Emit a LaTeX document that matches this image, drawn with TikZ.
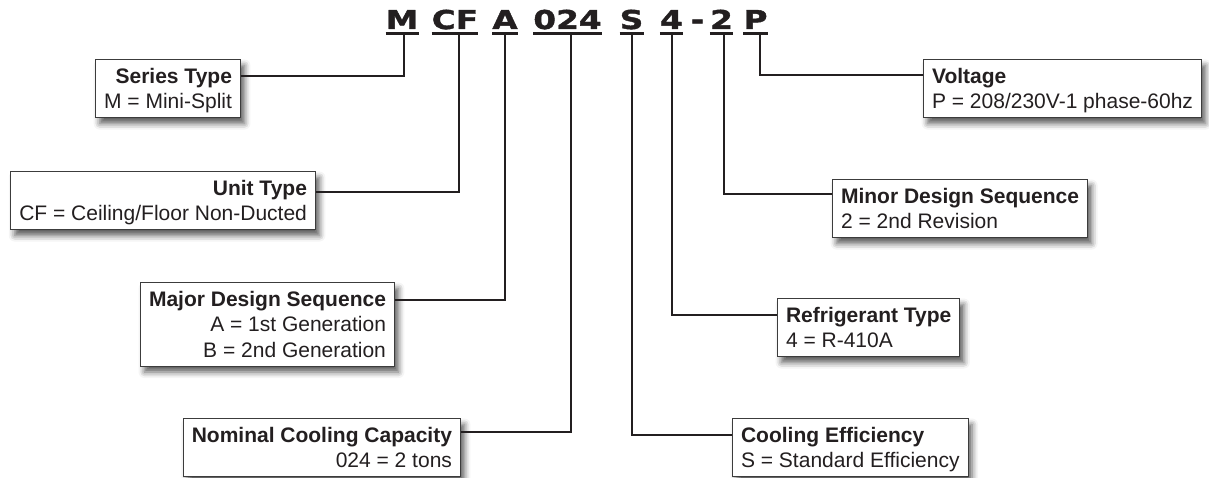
\documentclass[tikz,border=0pt]{standalone}
\usepackage{fontspec}
\setmainfont{Liberation Sans}
\newfontfamily\codefont[FakeStretch=1.26,FakeBold=1.6]{DejaVu Sans}
\usetikzlibrary{shadows.blur}
\definecolor{ink}{HTML}{231F20}
\definecolor{frame}{HTML}{3C3C3C}
\newcommand{\tstrut}{\rule{0pt}{23.5pt}}
\newcommand{\bstrut}{\rule[-9pt]{0pt}{9pt}}
\tikzset{
  code/.style={font=\codefont\bfseries\fontsize{26}{26}\selectfont, text=ink, anchor=base, inner sep=0pt},
  uline/.style={line width=2.6pt, draw=ink},
  conn/.style={line width=2pt, draw=ink},
  infobox/.style={draw=frame, line width=1.1pt, fill=white, inner xsep=8.5pt, inner ysep=0pt,
    text=ink, font=\fontsize{21}{25.5}\selectfont,
    blur shadow={shadow xshift=4pt, shadow yshift=-6pt, shadow blur radius=6pt, shadow opacity=65}},
  lbox/.style={infobox, align=right, anchor=north east},
  rbox/.style={infobox, align=left, anchor=north west},
}
\begin{document}
\begin{tikzpicture}[x=1pt,y=-1pt]
\path[use as bounding box] (0,0) rectangle (1209,478);
% code letters
\node[code] (cM) at (402,29) {M};
\node[code] (cCF) at (455,29) {CF};
\node[code] (cA) at (505,29) {A};
\node[code] (c024) at (567.5,29) {024};
\node[code] (cS) at (631.5,29) {S};
\node[code] (c4) at (671.5,29) {4};
\node[code] (cdash) at (697.5,29) {-};
\node[code] (c2) at (721.5,29) {2};
\node[code] (cP) at (755.5,29) {P};
\foreach \n in {cM,cCF,cA,c024,cS,c4,c2,cP}{
  \draw[uline] ([yshift=-4.5pt]\n.base west) -- ([yshift=-4.5pt]\n.base east);
}
% tick start points
\coordinate (tM) at (404,33);
\coordinate (tCF) at (459,33);
\coordinate (tA) at (505,33);
\coordinate (t024) at (571,33);
\coordinate (tS) at (632,33);
\coordinate (t4) at (672,33);
\coordinate (t2) at (724,33);
\coordinate (tP) at (760,33);
% boxes
\node[lbox] (series) at (241,59) {\tstrut\textbf{Series Type}\\ M = Mini-Split\bstrut};
\node[lbox] (unit) at (316,171) {\tstrut\textbf{Unit Type}\\ CF = Ceiling/Floor Non-Ducted\bstrut};
\node[lbox] (major) at (395,282) {\tstrut\textbf{Major Design Sequence}\\ A = 1st Generation\\ B = 2nd Generation\bstrut};
\node[lbox] (nominal) at (461,418) {\tstrut\textbf{Nominal Cooling Capacity}\\ 024 = 2 tons\bstrut};
\node[rbox] (voltage) at (923,59) {\tstrut\textbf{Voltage}\\ P = 208/230V-1 phase-60hz\bstrut};
\node[rbox] (minor) at (832,179) {\tstrut\textbf{Minor Design Sequence}\\ 2 = 2nd Revision\bstrut};
\node[rbox] (refrig) at (777,298) {\tstrut\textbf{Refrigerant Type}\\ 4 = R-410A\bstrut};
\node[rbox] (cooling) at (732,418) {\tstrut\textbf{Cooling Efficiency}\\ S = Standard Efficiency\bstrut};
% connectors
\draw[conn] (tM) |- ([yshift=-17pt]series.north east);
\draw[conn] (tCF) |- ([yshift=-21pt]unit.north east);
\draw[conn] (tA) |- ([yshift=-18pt]major.north east);
\draw[conn] (t024) |- ([yshift=-14pt]nominal.north east);
\draw[conn] (tP) |- ([yshift=-16pt]voltage.north west);
\draw[conn] (t2) |- ([yshift=-15pt]minor.north west);
\draw[conn] (t4) |- ([yshift=-17pt]refrig.north west);
\draw[conn] (tS) |- ([yshift=-17pt]cooling.north west);
\end{tikzpicture}
\end{document}
